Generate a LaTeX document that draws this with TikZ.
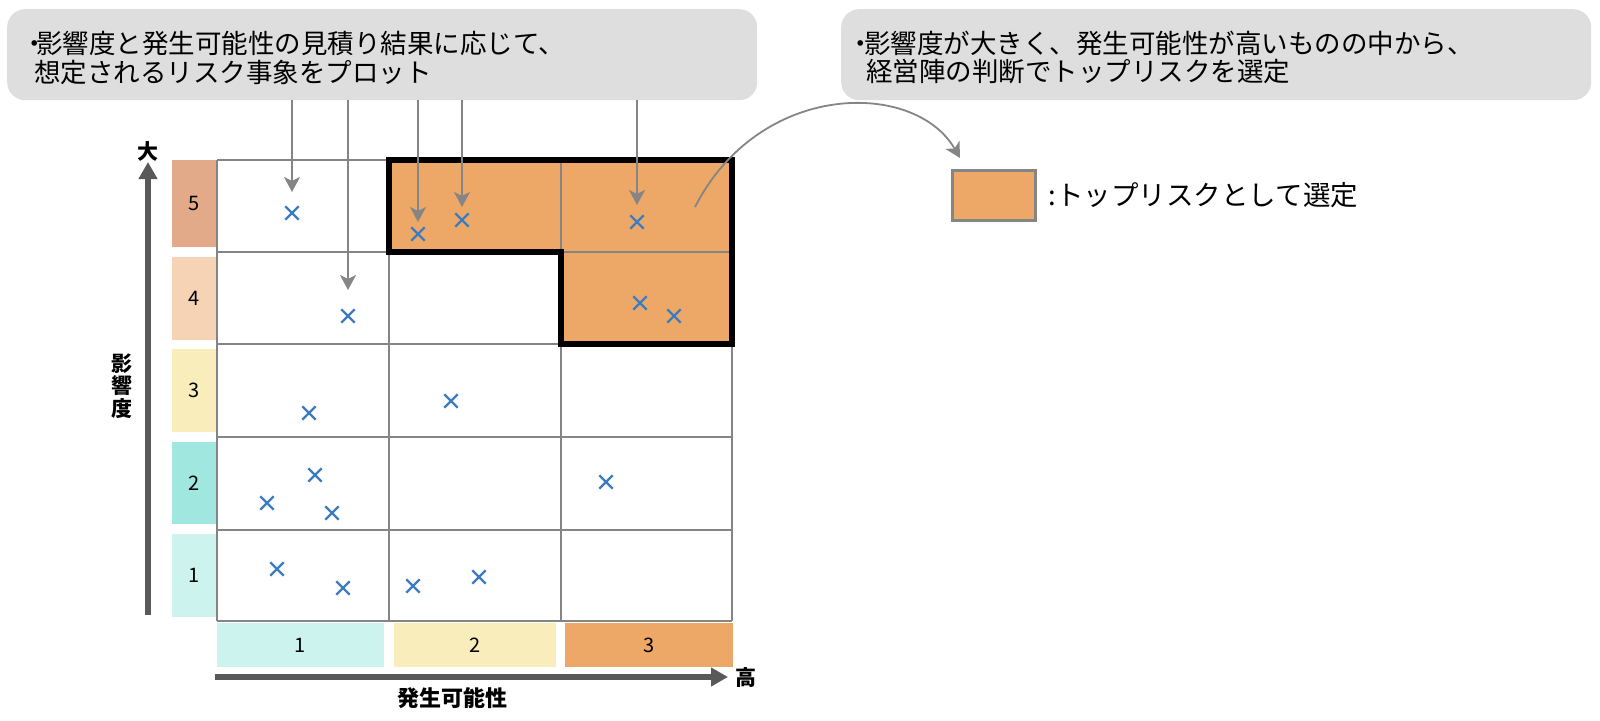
\documentclass[tikz,border=0pt]{standalone}
\usepackage{fontspec}
\setmainfont{Noto Sans CJK JP}
\usetikzlibrary{arrows.meta,positioning,shapes.misc}
\definecolor{notegray}{HTML}{DEDEDE}
\definecolor{toprisk}{HTML}{EDA766}
\definecolor{gridgray}{HTML}{858585}
\definecolor{axisgray}{HTML}{595959}
\definecolor{markblue}{HTML}{3D7CC0}
\definecolor{lvfive}{HTML}{E3AA89}
\definecolor{lvfour}{HTML}{F7D3B5}
\definecolor{lvthree}{HTML}{F8EDBB}
\definecolor{lvtwo}{HTML}{A0E7DF}
\definecolor{lvone}{HTML}{CDF3EF}

\begin{document}
\begin{tikzpicture}[x=1pt,y=-1pt,
 notebox/.style={fill=notegray, rounded corners=18pt, anchor=north west, inner sep=0pt, minimum width=750pt, minimum height=91pt},
 notetext/.style={anchor=west, inner sep=0pt, font=\fontsize{26.5}{30}\selectfont},
 levelbox/.style={inner sep=0pt, font=\fontsize{20}{22}\selectfont},
 riskmark/.style={cross out, draw=markblue, line width=2.4pt, minimum size=11pt, inner sep=0pt},
 pointer/.style={draw=gridgray, line width=1.8pt, -{Stealth[length=15pt,width=16pt,inset=4pt]}},
 axis/.style={draw=axisgray, line width=6pt, -{Triangle[length=17pt,width=18pt]}},
 axislabel/.style={inner sep=0pt, font=\bfseries\fontsize{21}{22.5}\selectfont}]
\useasboundingbox (0,0) rectangle (1600,720);

\node[notebox] (plotnote) at (7,9) {};
\node[notebox] (picknote) at (841,9) {};
\node[notetext] (plottxt1) at (33,43) {\makebox[3pt]{・}影響度と発生可能性の見積り結果に応じて、};
\node[notetext] (plottxt2) at (34,72) {想定されるリスク事象をプロット};
\node[notetext] (picktxt1) at (858,43) {\makebox[6pt]{・}影響度が大きく、発生可能性が高いものの中から、};
\node[notetext] (picktxt2) at (866,72) {経営陣の判断でトップリスクを選定};

\fill[toprisk] (389,160) rectangle (732,252);
\fill[toprisk] (561,252) rectangle (732,344);
\foreach \gx in {217,389,561,732}
  \draw[gridgray, line width=2.5pt] (\gx,160) -- (\gx,621);
\foreach \gy in {160,252,344,437,530,621}
  \draw[gridgray, line width=2.5pt] (217,\gy) -- (732,\gy);
\draw[line width=6pt] (389,160) -- (732,160) -- (732,344) -- (561,344) -- (561,252) -- (389,252) -- cycle;

\foreach \lv/\ya/\yb/\col in {5/160/247/lvfive, 4/257/340/lvfour, 3/349/432/lvthree, 2/442/524/lvtwo, 1/534/617/lvone}
  \node[levelbox, fill=\col, minimum width=44pt, minimum height={(\yb-\ya)*1pt}] (lv\lv) at (194,{(\ya+\yb)/2}) {\lv};
\foreach \pr/\xa/\xb/\col in {1/217/384/lvone, 2/394/556/lvthree, 3/565/733/toprisk}
  \node[levelbox, fill=\col, minimum width={(\xb-\xa)*1pt}, minimum height=44pt] (pr\pr) at ({(\xa+\xb)/2},645) {\pr};

\coordinate (yfoot) at (148,615);
\coordinate (ytip) at (148,162);
\draw[axis] (yfoot) -- (ytip);
\node[axislabel] (bigtxt) at (148,151) {大};
\coordinate (xfoot) at (215,677);
\coordinate (xtip) at (728,677);
\draw[axis] (xfoot) -- (xtip);
\node[axislabel, right=7pt of xtip] (hightxt) {高};
\node[axislabel, font=\bfseries\fontsize{22}{24}\selectfont] (probtxt) at (452,698) {発生可能性};
\node[axislabel, align=center] (impacttxt) at (122,386) {影\\響\\度};

\foreach \mk/\mx/\my in {a/292/213, b/418/234, c/462/220, d/637/222, e/348/316, f/640/303, g/674/316, h/309/413, i/451/401, j/315/475, k/267/503, l/332/513, m/606/482, n/277/569, o/343/588, p/413/586, q/479/577}
  \node[riskmark] (mk\mk) at (\mx,\my) {};
\foreach \mk/\gap in {a/21, e/26, b/12, c/13, d/17}
  \draw[pointer] (plotnote.south -| mk\mk) -- ([yshift=\gap pt]mk\mk.center);

\node[fill=toprisk, draw=gridgray, line width=2.6pt, minimum width=83pt, minimum height=50pt, inner sep=0pt, anchor=north west] (legendbox) at (951,169) {};
\node[notetext, font=\fontsize{27.5}{30}\selectfont, right=12pt of legendbox] (legendtxt) {:トップリスクとして選定};
\coordinate (pickfrom) at (695,207);
\draw[pointer] (pickfrom) .. controls (760,80) and (915,80) .. ([xshift=9pt,yshift=11pt]legendbox.north west);
\end{tikzpicture}
\end{document}
